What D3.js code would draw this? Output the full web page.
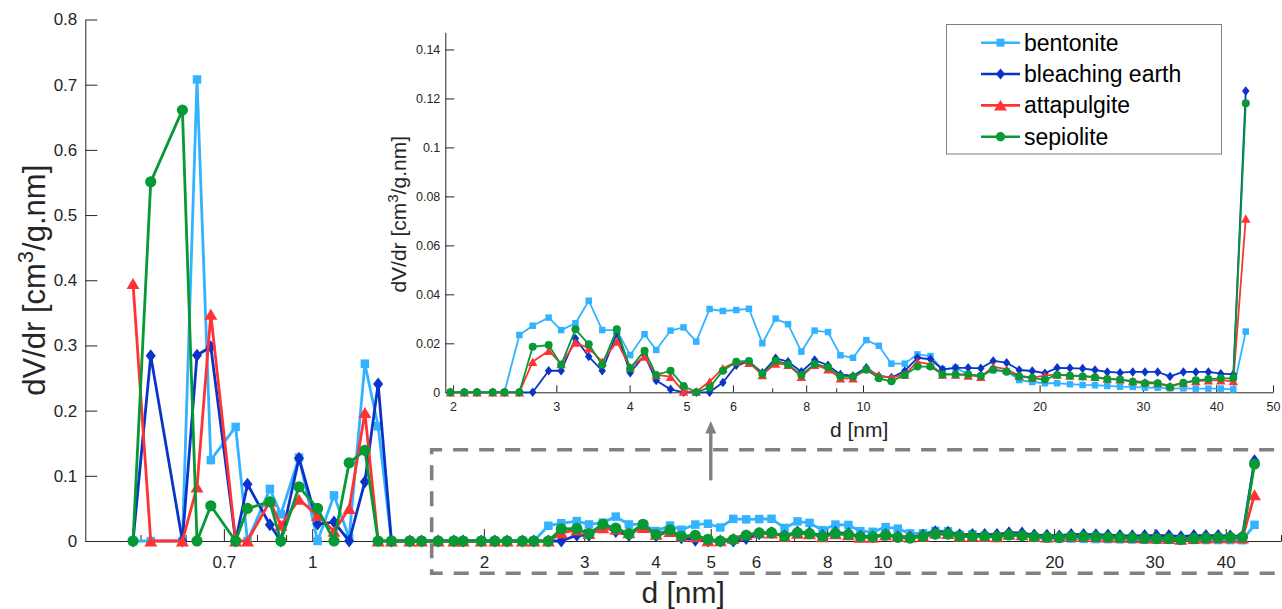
<!DOCTYPE html>
<html>
<head>
<meta charset="utf-8">
<script src="https://cdn.jsdelivr.net/npm/d3@7"></script>
<style>
  html, body { margin: 0; padding: 0; background: #ffffff; }
  svg { display: block; font-family: "Liberation Sans", Arial, Helvetica, sans-serif; }
</style>
</head>
<body>
<script>
// ---------------- DATA ----------------
const poreWidth = [
  0.485, 0.521, 0.592, 0.628, 0.664, 0.734, 0.770, 0.843, 0.881, 0.948, 1.022, 1.092, 1.161, 1.237, 1.305, 1.377, 1.483, 1.555, 1.663, 1.772, 1.839,
  1.979, 2.09, 2.197, 2.337, 2.447, 2.595, 2.734, 2.911, 3.057, 3.234, 3.407, 3.592, 3.804, 4.009, 4.241, 4.44, 4.697, 4.943, 5.196, 5.475, 5.768, 6.08, 6.39, 6.735, 7.096, 7.45, 7.85, 8.27,
  8.716, 9.15, 9.614, 10.13, 10.64, 11.18, 11.78, 12.38, 13.03, 13.66, 14.38, 15.11, 15.88, 16.67, 17.57, 18.46, 19.43, 20.42, 21.43, 22.53, 23.68, 24.86, 26.09, 27.43, 28.83, 30.25, 31.8, 33.37, 35.17, 36.93, 38.8, 40.73, 42.79, 44.93
];

const bentonite = [
  0, 0, 0, 0.708, 0.124, 0.175, 0, 0.080, 0.041, 0.128, 0, 0.070, 0.005, 0.272, 0.176, 0, 0, 0, 0, 0, 0,
  0, 0, 0, 0, 0, 0.0234, 0.0272, 0.0305, 0.0254, 0.0282, 0.0374, 0.0254, 0.0254, 0.0152, 0.0237, 0.0173, 0.0252, 0.0265, 0.0207, 0.034, 0.0332, 0.0336, 0.0341, 0.020, 0.0301, 0.0278, 0.0166, 0.0252,
  0.0246, 0.0151, 0.0141, 0.0213, 0.019, 0.0117, 0.0117, 0.0155, 0.0148, 0.0094, 0.010, 0.0073, 0.0067, 0.009, 0.0087, 0.005, 0.0042, 0.0037, 0.0037, 0.0033, 0.003, 0.0029, 0.0026, 0.0023, 0.0022, 0.0019, 0.0019, 0.0016, 0.0016, 0.0015, 0.0015, 0.0015, 0.0012, 0.0248
];

const bleachingEarth = [
  0, 0.284, 0, 0.285, 0.298, 0, 0.087, 0.025, 0, 0.127, 0.026, 0.029, 0, 0.091, 0.241, 0, 0, 0, 0, 0, 0,
  0, 0, 0, 0, 0, 0, 0, 0.0088, 0.0088, 0.022, 0.0146, 0.0088, 0.024, 0.008, 0.0152, 0.0048, 0.0012, 0, 0, 0, 0.004, 0.011, 0.0125, 0.008, 0.0139, 0.0125, 0.0084, 0.0132,
  0.011, 0.0073, 0.0067, 0.010, 0.0067, 0.006, 0.0087, 0.0141, 0.0135, 0.0094, 0.010, 0.010, 0.0098, 0.0128, 0.0121, 0.0091, 0.0087, 0.0078, 0.010, 0.0099, 0.0097, 0.0091, 0.0083, 0.008, 0.0083, 0.0083, 0.0083, 0.0065, 0.0083, 0.0083, 0.0083, 0.0076, 0.0073, 0.123
];

const attapulgite = [
  0.395, 0, 0, 0.083, 0.348, 0, 0, 0.061, 0.024, 0.064, 0.039, 0.015, 0.050, 0.197, 0, 0, 0, 0, 0, 0, 0,
  0, 0, 0, 0, 0, 0, 0.0125, 0.017, 0.0116, 0.0203, 0.018, 0.0125, 0.0207, 0.0102, 0.0146, 0.0071, 0.0064, 0.0003, 0.0003, 0.0044, 0.0098, 0.0125, 0.0121, 0.0071, 0.0118, 0.0112, 0.0064, 0.0112,
  0.0094, 0.0057, 0.0057, 0.0095, 0.0068, 0.006, 0.0073, 0.0124, 0.0114, 0.0073, 0.0073, 0.0069, 0.0064, 0.0105, 0.0094, 0.0068, 0.006, 0.0068, 0.0073, 0.0069, 0.0067, 0.0063, 0.0056, 0.0053, 0.0046, 0.0042, 0.0039, 0.0026, 0.0039, 0.0046, 0.0049, 0.0049, 0.0046, 0.071
];

const sepiolite = [
  0, 0.551, 0.661, 0, 0.054, 0, 0.050, 0.060, 0, 0.083, 0.050, 0, 0.120, 0.139, 0, 0, 0, 0, 0, 0, 0,
  0, 0, 0, 0, 0, 0, 0.0186, 0.0193, 0.0112, 0.0257, 0.0196, 0.0112, 0.0257, 0.0098, 0.017, 0.0071, 0.0088, 0.0026, 0, 0.002, 0.0088, 0.0125, 0.0128, 0.0075, 0.0129, 0.0114, 0.0071, 0.0116,
  0.0102, 0.0065, 0.0064, 0.0093, 0.0057, 0.0045, 0.0071, 0.0105, 0.0105, 0.0073, 0.0073, 0.0073, 0.0067, 0.0093, 0.0084, 0.0065, 0.0058, 0.0052, 0.0071, 0.0068, 0.0065, 0.0061, 0.0054, 0.0052, 0.0043, 0.0037, 0.0037, 0.0022, 0.0039, 0.0049, 0.0054, 0.0057, 0.0058, 0.118
];

const seriesNames = ["bentonite", "bleaching earth", "attapulgite", "sepiolite"];
const seriesColors = ["#33b3ff", "#0a33c8", "#ff3333", "#079934"];
const seriesMarkers = ["square", "diamond", "triangle", "circle"];

const mainXTicks = [0.7, 1, 2, 3, 4, 5, 6, 8, 10, 20, 30, 40];
const mainXMinor = [0.5, 0.6, 0.8, 0.9, 7, 9, 50];
const mainYTicks = [0, 0.1, 0.2, 0.3, 0.4, 0.5, 0.6, 0.7, 0.8];
const insetXTicks = [2, 3, 4, 5, 6, 8, 10, 20, 30, 40, 50];
const insetXMinor = [7, 9];
const insetYTicks = [0, 0.02, 0.04, 0.06, 0.08, 0.1, 0.12, 0.14];

// ---------------- SETUP ----------------
const W = 1282, H = 609;
const axisColor = "#262626";
const svg = d3.select("body").append("svg").attr("width", W).attr("height", H);
svg.append("rect").attr("width", W).attr("height", H).attr("fill", "#fff");

const allSeries = [bentonite, bleachingEarth, attapulgite, sepiolite].map((vals, i) => ({
  name: seriesNames[i], color: seriesColors[i], marker: seriesMarkers[i],
  points: poreWidth.map((x, j) => ({ x, y: vals[j] }))
}));

function markerPath(type, s) {
  if (type === "square") { const a = s.sq / 2; return `M${-a},${-a}H${a}V${a}H${-a}Z`; }
  if (type === "diamond") { const w = s.dw / 2, h = s.dh / 2; return `M0,${-h}L${w},0L0,${h}L${-w},0Z`; }
  if (type === "triangle") { const w = s.tw / 2, h = s.th / 2; return `M0,${-h}L${w},${h}L${-w},${h}Z`; }
  const r = s.r; return `M${-r},0A${r},${r} 0 1,0 ${r},0A${r},${r} 0 1,0 ${-r},0Z`;
}

function fmtNum(d) { return String(+d.toFixed(3)); }

function drawAxes(g, xs, ys, opt) {
  const yBase = ys(0);
  const xLeft = xs.range()[0];
  const xa = d3.axisBottom(xs).tickValues(opt.xTicks).tickFormat(fmtNum)
    .tickSizeInner(-opt.xTick).tickSizeOuter(0).tickPadding(opt.xPad);
  const gx = g.append("g").attr("transform", `translate(0,${yBase})`).call(xa);
  const xm = d3.axisBottom(xs).tickValues(opt.xMinor).tickFormat("")
    .tickSizeInner(-opt.xMinorTick).tickSizeOuter(0);
  const gxm = g.append("g").attr("transform", `translate(0,${yBase})`).call(xm);
  gxm.select(".domain").remove();
  const ya = d3.axisLeft(ys).tickValues(opt.yTicks).tickFormat(fmtNum)
    .tickSizeInner(-opt.yTick).tickSizeOuter(0).tickPadding(opt.yPad);
  const gy = g.append("g").attr("transform", `translate(${xLeft},0)`).call(ya);
  [gx, gxm, gy].forEach(a => {
    a.selectAll("path,line").attr("stroke", axisColor).attr("stroke-width", 1);
    a.selectAll("text").attr("fill", axisColor).style("font-size", opt.font + "px")
      .style("font-family", '"Liberation Sans", Arial, sans-serif');
  });
}

function drawSeries(g, xs, ys, data, ms, lw, filter) {
  const line = d3.line().x(d => xs(d.x)).y(d => ys(d.y));
  data.forEach(s => {
    const pts = s.points.filter(filter);
    const gs = g.append("g");
    gs.append("path").attr("d", line(pts)).attr("fill", "none")
      .attr("stroke", s.color).attr("stroke-width", lw).attr("stroke-linejoin", "round");
    gs.selectAll("path.m").data(pts).join("path").attr("class", "m")
      .attr("transform", d => `translate(${xs(d.x)},${ys(d.y)})`)
      .attr("d", markerPath(s.marker, ms)).attr("fill", s.color).attr("stroke", "none");
  });
}

// ---------------- MAIN PLOT ----------------
const xM = d3.scaleLog().domain([0.4, 50]).range([85.3, 1281]);
const yM = d3.scaleLinear().domain([0, 0.8]).range([541, 19.5]);
const gMain = svg.append("g");
drawAxes(gMain, xM, yM, { xTicks: mainXTicks, xMinor: mainXMinor, yTicks: mainYTicks,
  xTick: 12, xMinorTick: 6, yTick: 12, xPad: 15, yPad: 8, font: 17 });
drawSeries(gMain, xM, yM, allSeries, { sq: 8.5, dw: 10, dh: 13, tw: 13, th: 11, r: 5.6 }, 2.8, () => true);

gMain.append("text").attr("x", (xM.range()[0] + xM.range()[1]) / 2).attr("y", 603)
  .attr("text-anchor", "middle").attr("fill", axisColor).style("font-size", "30px").text("d [nm]");
const ylM = gMain.append("text").attr("transform", `translate(45,${yM(0.4)}) rotate(-90)`)
  .attr("text-anchor", "middle").attr("fill", axisColor).style("font-size", "31px");
ylM.append("tspan").text("dV/dr [cm");
ylM.append("tspan").attr("dy", -12).style("font-size", "22px").text("3");
ylM.append("tspan").attr("dy", 12).text("/g.nm]");

// dashed zoom rectangle
const rx0 = xM(1.62), rx1 = xM(60), ry0 = yM(0.14), ry1 = yM(-0.0495);
gMain.append("path")
  .attr("d", `M${rx1},${ry0}H${rx0}V${ry1}H${rx1}`)
  .attr("fill", "none").attr("stroke", "#808080").attr("stroke-width", 3.6)
  .attr("stroke-dasharray", "15 11");

// arrow
const ax = xM(5), ay0 = yM(0.093), ay1 = yM(0.184);
gMain.append("line").attr("x1", ax).attr("x2", ax).attr("y1", ay0).attr("y2", ay1 + 10)
  .attr("stroke", "#808080").attr("stroke-width", 3.4);
gMain.append("path").attr("d", `M${ax},${ay1}L${ax + 5.5},${ay1 + 12.5}L${ax - 5.5},${ay1 + 12.5}Z`)
  .attr("fill", "#808080");

// ---------------- INSET ----------------
const xI = d3.scaleLog().domain([1.94, 50]).range([445.3, 1273]);
const yI = d3.scaleLinear().domain([0, 0.147]).range([392.3, 32.3]);
const gIn = svg.append("g");
drawAxes(gIn, xI, yI, { xTicks: insetXTicks, xMinor: insetXMinor, yTicks: insetYTicks,
  xTick: 7, xMinorTick: 4, yTick: 9, xPad: 10, yPad: 5, font: 12.5 });
drawSeries(gIn, xI, yI, allSeries, { sq: 6.5, dw: 7.5, dh: 9.5, tw: 9.5, th: 8.5, r: 4 }, 1.8, d => d.x >= 1.94);

gIn.append("text").attr("x", (xI.range()[0] + xI.range()[1]) / 2).attr("y", 436.5)
  .attr("text-anchor", "middle").attr("fill", axisColor).style("font-size", "21px").text("d [nm]");
const ylI = gIn.append("text").attr("transform", `translate(406,${(yI.range()[0] + yI.range()[1]) / 2 + 2}) rotate(-90)`)
  .attr("text-anchor", "middle").attr("fill", axisColor).style("font-size", "21px");
ylI.append("tspan").text("dV/dr [cm");
ylI.append("tspan").attr("dy", -8).style("font-size", "15px").text("3");
ylI.append("tspan").attr("dy", 8).text("/g.nm]");

// ---------------- LEGEND ----------------
const leg = svg.append("g");
leg.append("rect").attr("x", 946.5).attr("y", 24.5).attr("width", 275).attr("height", 129.5)
  .attr("fill", "#fff").attr("stroke", "#7f7f7f").attr("stroke-width", 1);
const legRowY = d3.scalePoint().domain(seriesNames).range([42.7, 136.7]);
allSeries.forEach(s => {
  const y = legRowY(s.name);
  leg.append("line").attr("x1", 981).attr("x2", 1020).attr("y1", y).attr("y2", y)
    .attr("stroke", s.color).attr("stroke-width", 2.6);
  leg.append("path").attr("transform", `translate(1000.5,${y})`)
    .attr("d", markerPath(s.marker, { sq: 8, dw: 9, dh: 11, tw: 13, th: 10.5, r: 4.7 }))
    .attr("fill", s.color);
  leg.append("text").attr("x", 1024).attr("y", y).attr("dy", "0.35em")
    .attr("fill", "#000").style("font-size", "23px").text(s.name);
});
</script>
</body>
</html>
